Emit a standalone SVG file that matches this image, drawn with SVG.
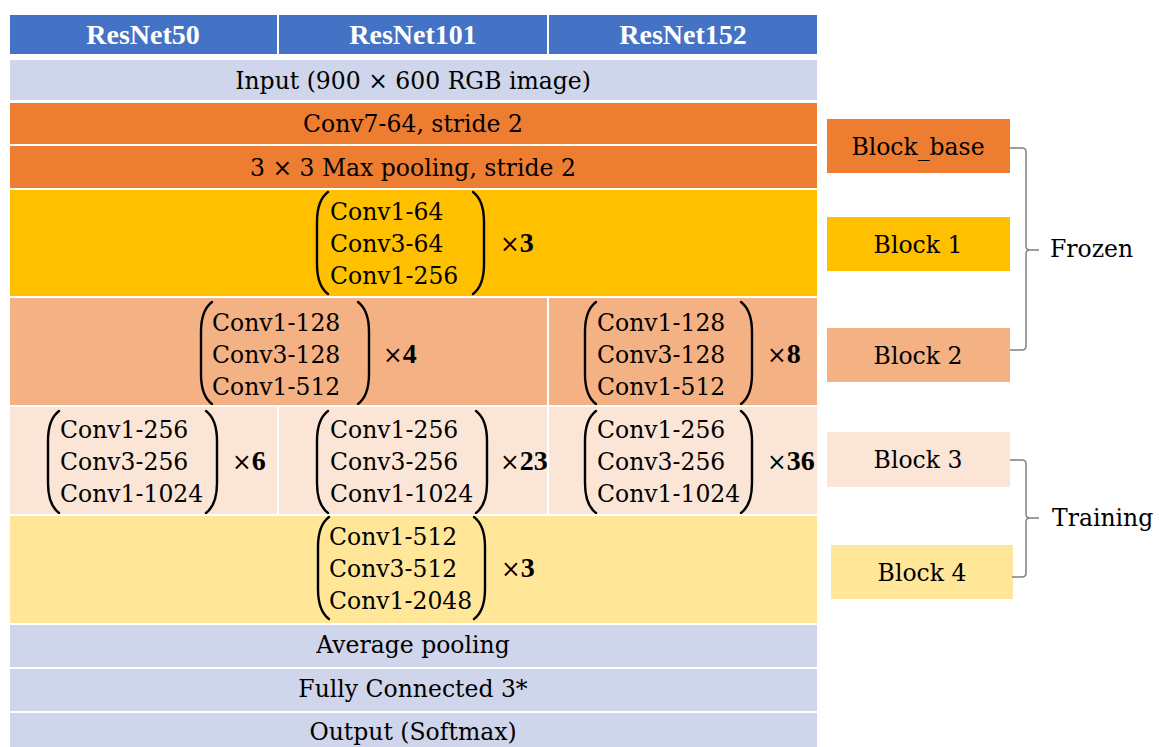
<svg xmlns="http://www.w3.org/2000/svg" width="1159" height="747" viewBox="0 0 1159 747">
<style>
text{font-family:"DejaVu Serif",serif;font-size:23.5px;fill:#000}
.hd{font-family:"Liberation Serif","DejaVu Serif",serif;font-size:28px;font-weight:bold;fill:#fff;text-anchor:middle}
.c{text-anchor:middle}
.b{font-family:"Liberation Serif","DejaVu Serif",serif;font-size:28px;font-weight:bold}
.cell{stroke:#fff;stroke-width:2}
.par{fill:none;stroke:#000;stroke-width:2.4;stroke-linecap:round}
.br{fill:none;stroke:#7f7f7f;stroke-width:1.5}
</style>
<defs>
<path id="lp" class="par" d="M 11 0 C 3 6 0 16 0 30 L 0 72 C 0 86 3 96 11 102"/>
<path id="rp" class="par" d="M 0 0 C 8 6 11 16 11 30 L 11 72 C 11 86 8 96 0 102"/>
</defs>
<rect width="1159" height="747" fill="#fff"/>

<g id="header">
<rect class="cell" x="9" y="14" width="269" height="41" fill="#4472C4"/>
<rect class="cell" x="278" y="14" width="270" height="41" fill="#4472C4"/>
<rect class="cell" x="548" y="14" width="270" height="41" fill="#4472C4"/>
<text class="hd" x="143" y="44">ResNet50</text>
<text class="hd" x="413" y="44">ResNet101</text>
<text class="hd" x="683" y="44">ResNet152</text>
</g>

<g id="input">
<rect class="cell" x="9" y="59" width="809" height="42" fill="#CFD5EA"/>
<text class="c" x="413" y="89">Input (900 × 600 RGB image)</text>
</g>

<g id="conv7">
<rect class="cell" x="9" y="102" width="809" height="43" fill="#ED7D31"/>
<text class="c" x="413" y="132">Conv7-64, stride 2</text>
</g>

<g id="maxpool">
<rect class="cell" x="9" y="145" width="809" height="44" fill="#ED7D31"/>
<text class="c" x="413" y="176">3 × 3 Max pooling, stride 2</text>
</g>

<g id="block1-row">
<rect class="cell" x="9" y="189" width="809" height="108" fill="#FFC000"/>
<use href="#lp" x="317" y="192"/>
<use href="#rp" x="473" y="192"/>
<text x="330" y="220">Conv1-64</text>
<text x="330" y="252">Conv3-64</text>
<text x="330" y="284">Conv1-256</text>
<text x="500" y="252">×<tspan class="b">3</tspan></text>
</g>

<g id="block2-row">
<rect class="cell" x="9" y="297" width="539" height="109" fill="#F4B183"/>
<rect class="cell" x="548" y="297" width="270" height="109" fill="#F4B183"/>
<use href="#lp" x="201" y="302"/>
<use href="#rp" x="358" y="302"/>
<text x="212" y="331">Conv1-128</text>
<text x="212" y="363">Conv3-128</text>
<text x="212" y="395">Conv1-512</text>
<text x="383" y="363">×<tspan class="b">4</tspan></text>
<use href="#lp" x="585" y="302"/>
<use href="#rp" x="741" y="302"/>
<text x="597" y="331">Conv1-128</text>
<text x="597" y="363">Conv3-128</text>
<text x="597" y="395">Conv1-512</text>
<text x="767" y="363">×<tspan class="b">8</tspan></text>
</g>

<g id="block3-row">
<rect class="cell" x="9" y="406" width="269" height="109" fill="#FBE5D6"/>
<rect class="cell" x="278" y="406" width="270" height="109" fill="#FBE5D6"/>
<rect class="cell" x="548" y="406" width="270" height="109" fill="#FBE5D6"/>
<use href="#lp" x="48" y="411"/>
<use href="#rp" x="206" y="411"/>
<text x="60" y="438">Conv1-256</text>
<text x="60" y="470">Conv3-256</text>
<text x="60" y="502">Conv1-1024</text>
<text x="232" y="470">×<tspan class="b">6</tspan></text>
<use href="#lp" x="317" y="411"/>
<use href="#rp" x="476" y="411"/>
<text x="330" y="438">Conv1-256</text>
<text x="330" y="470">Conv3-256</text>
<text x="330" y="502">Conv1-1024</text>
<text x="500" y="470">×<tspan class="b">23</tspan></text>
<use href="#lp" x="585" y="411"/>
<use href="#rp" x="741" y="411"/>
<text x="597" y="438">Conv1-256</text>
<text x="597" y="470">Conv3-256</text>
<text x="597" y="502">Conv1-1024</text>
<text x="767" y="470">×<tspan class="b">36</tspan></text>
</g>

<g id="block4-row">
<rect class="cell" x="9" y="515" width="809" height="109" fill="#FFE699"/>
<use href="#lp" x="318" y="517"/>
<use href="#rp" x="474" y="517"/>
<text x="329" y="545">Conv1-512</text>
<text x="329" y="577">Conv3-512</text>
<text x="329" y="609">Conv1-2048</text>
<text x="501" y="577">×<tspan class="b">3</tspan></text>
</g>

<g id="avgpool">
<rect class="cell" x="9" y="624" width="809" height="44" fill="#CFD5EA"/>
<text class="c" x="413" y="653">Average pooling</text>
</g>

<g id="fc">
<rect class="cell" x="9" y="668" width="809" height="44" fill="#CFD5EA"/>
<text class="c" x="413" y="697">Fully Connected 3*</text>
</g>

<g id="output">
<rect class="cell" x="9" y="712" width="809" height="44" fill="#CFD5EA"/>
<text class="c" x="413" y="740">Output (Softmax)</text>
</g>

<g id="block_base">
<rect x="827" y="119" width="183" height="54" fill="#ED7D31"/>
<text class="c" x="918" y="155">Block_base</text>
</g>
<g id="block1">
<rect x="827" y="217" width="183" height="54" fill="#FFC000"/>
<text class="c" x="918" y="253">Block 1</text>
</g>
<g id="block2">
<rect x="827" y="328" width="183" height="54" fill="#F4B183"/>
<text class="c" x="918" y="364">Block 2</text>
</g>
<g id="block3">
<rect x="827" y="432" width="183" height="55" fill="#FBE5D6"/>
<text class="c" x="918" y="468">Block 3</text>
</g>
<g id="block4">
<rect x="831" y="545" width="182" height="54" fill="#FFE699"/>
<text class="c" x="922" y="581">Block 4</text>
</g>

<g id="connectors">
<path class="br" d="M 1010 148 H 1022 Q 1026 148 1026 152 V 246 Q 1026 250 1030 250 H 1039 M 1030 250 Q 1026 250 1026 254 V 346 Q 1026 350 1022 350 H 1010"/>
<path class="br" d="M 1010 460 H 1022 Q 1026 460 1026 464 V 514 Q 1026 518 1030 518 H 1039 M 1030 518 Q 1026 518 1026 522 V 573 Q 1026 577 1022 577 H 1012"/>
</g>
<g id="labels">
<text x="1050" y="257">Frozen</text>
<text x="1052" y="526">Training</text>
</g>
</svg>
